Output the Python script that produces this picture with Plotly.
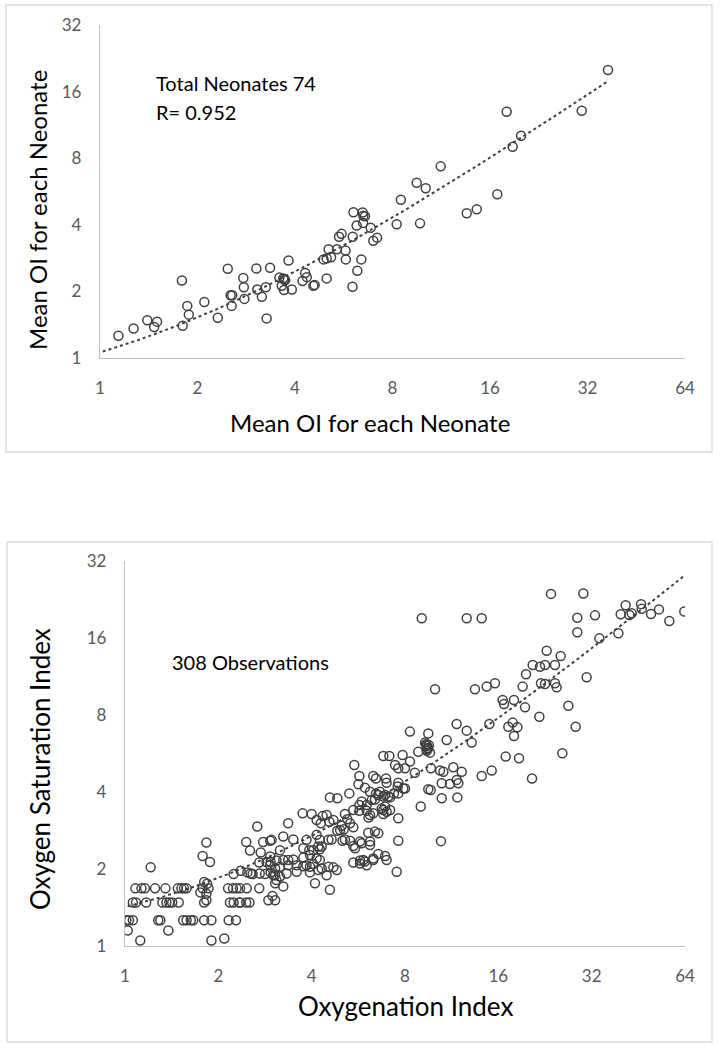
import numpy as np
import plotly.graph_objects as go

W, H = 720, 1050

# ---------------- Top panel data: mean OI per neonate ----------------
neonate_x = [1.14, 1.27, 1.40, 1.50, 1.47, 1.80, 1.79, 1.86, 1.88, 2.10,
             2.31, 2.48, 2.53, 2.56, 2.55, 2.77, 2.78, 2.79, 3.04, 3.06,
             3.16, 3.25, 3.35, 3.27, 3.58, 3.68, 3.73, 3.64, 3.70, 3.91,
             3.82, 4.22, 4.30, 4.35, 4.56, 4.60, 5.01, 4.90, 5.01, 5.17,
             5.08, 5.39, 5.47, 5.57, 5.73, 5.74, 6.02, 6.03, 6.06, 6.20,
             6.23, 6.41, 6.47, 6.58, 6.49, 6.85, 6.98, 7.17, 8.24, 8.49,
             9.50, 10.13, 9.73, 11.27, 13.56, 14.56, 16.85, 18.01, 18.80, 19.95,
             30.71, 37.02, 3.70, 6.50]
neonate_y = [1.26, 1.36, 1.48, 1.46, 1.38, 1.40, 2.24, 1.72, 1.57, 1.79,
             1.52, 2.53, 1.92, 1.92, 1.72, 2.30, 2.09, 1.85, 2.54, 2.04,
             1.89, 2.09, 2.56, 1.51, 2.31, 2.29, 2.25, 2.12, 2.03, 2.04,
             2.76, 2.23, 2.42, 2.32, 2.12, 2.14, 2.29, 2.79, 2.82, 2.85,
             3.10, 3.10, 3.53, 3.64, 3.06, 2.79, 2.10, 3.53, 4.56, 3.97,
             2.48, 2.79, 4.55, 4.37, 4.08, 3.88, 3.39, 3.50, 4.02, 5.19,
             6.20, 5.85, 4.06, 7.35, 4.51, 4.70, 5.50, 12.98, 9.02, 10.11,
             13.12, 20.03, 2.26, 4.40]

# ---------------- Bottom panel data: (OI, OSI) observations ----------------
obs_low = [
    (1.01, 1.26), (1.03, 1.26), (1.06, 1.26), (1.28, 1.26), (1.30, 1.26), (1.54, 1.26),
    (1.58, 1.26), (1.63, 1.26), (1.66, 1.26), (1.80, 1.26), (1.90, 1.26), (2.16, 1.26),
    (2.28, 1.26), (1.02, 1.15), (1.38, 1.15), (1.12, 1.05), (1.90, 1.05), (2.09, 1.07),
    (1.06, 1.48), (1.085, 1.48), (1.17, 1.48), (1.32, 1.48), (1.36, 1.48), (1.39, 1.48),
    (1.42, 1.48), (1.49, 1.48), (1.80, 1.48), (2.18, 1.48), (2.24, 1.48), (2.34, 1.48),
    (2.35, 1.48), (2.46, 1.48), (2.52, 1.48), (2.90, 1.51), (2.99, 1.57), (3.05, 1.51),
    (1.08, 1.68), (1.13, 1.68), (1.16, 1.68), (1.25, 1.68), (1.35, 1.68), (1.48, 1.68),
    (1.52, 1.68), (1.55, 1.68), (1.58, 1.68), (1.78, 1.68), (1.86, 1.68), (2.15, 1.68),
    (2.23, 1.68), (2.29, 1.68), (2.35, 1.68), (2.47, 1.68), (2.71, 1.68),
    (1.21, 2.03), (1.83, 2.54), (1.78, 2.25), (1.88, 2.13), (1.75, 1.62), (1.83, 1.60),
    (1.84, 1.75), (1.80, 1.78), (1.83, 1.51), (2.46, 2.55), (2.53, 2.36), (2.67, 2.93),
    (2.79, 2.55), (2.94, 2.58), (2.74, 2.32), (2.71, 2.12), (2.86, 2.13), (2.95, 2.13),
    (2.36, 1.97), (2.48, 1.94), (2.54, 1.92), (2.58, 1.91), (2.24, 1.91), (2.72, 1.92),
    (2.83, 1.91), (2.95, 1.94), (3.05, 1.89), (3.08, 1.81),
]
obs_mid = [
    (6.81, 5.53), (7.12, 5.53), (7.86, 5.58), (8.83, 5.75), (9.40, 6.11), (5.49, 5.10),
    (7.43, 5.10), (7.61, 4.95), (8.00, 4.95), (8.30, 5.26), (8.61, 4.76), (5.70, 4.62),
    (6.32, 4.62), (6.45, 4.52), (6.95, 4.52), (6.98, 4.35), (7.61, 4.35), (7.58, 4.20),
    (8.00, 4.13), (5.66, 4.29), (5.94, 4.16), (6.17, 4.01), (6.45, 3.95), (6.64, 4.01),
    (6.90, 3.89), (7.16, 3.81), (7.37, 3.95), (5.29, 3.95), (4.58, 3.81), (4.84, 3.78),
    (5.80, 3.67), (5.70, 3.56), (6.02, 3.56), (6.25, 3.72), (6.40, 3.74), (6.73, 3.45),
    (6.90, 3.51), (7.16, 3.40), (6.98, 3.35), (7.61, 3.16), (8.99, 3.51), (3.74, 3.30),
    (4.00, 3.28), (4.34, 3.22), (4.47, 3.25), (5.12, 3.28), (5.45, 3.40), (5.70, 3.38),
    (6.02, 3.38), (6.17, 3.25), (6.10, 3.18), (4.15, 3.11), (4.28, 3.02), (4.56, 3.06),
    (4.70, 3.11), (5.00, 2.95), (5.21, 3.13), (5.32, 3.02), (5.45, 2.91), (5.08, 2.86),
    (4.84, 2.82), (4.94, 2.84), (3.36, 3.02), (3.24, 2.68), (2.97, 2.60), (3.49, 2.61),
    (3.85, 2.60), (4.15, 2.72), (4.25, 2.60), (4.53, 2.60), (4.64, 2.61), (5.03, 2.58),
    (5.12, 2.61), (5.32, 2.58), (5.73, 2.56), (6.17, 2.56), (6.09, 2.77), (6.40, 2.80),
    (6.56, 2.76), (7.61, 2.58), (3.16, 2.37), (3.76, 2.41), (3.93, 2.37), (4.05, 2.37),
    (4.20, 2.45), (4.25, 2.39), (4.31, 2.45), (2.94, 2.24), (3.08, 2.16), (3.24, 2.17),
    (3.36, 2.17), (3.49, 2.18), (3.76, 2.22), (3.95, 2.27), (4.15, 2.20), (4.05, 2.09),
    (4.25, 2.17), (3.85, 2.07), (5.45, 2.46), (5.52, 2.41), (5.80, 2.52), (5.45, 2.12),
    (5.73, 2.16), (5.94, 2.14), (6.02, 2.07), (6.32, 2.17), (6.56, 2.29), (6.90, 2.25),
    (6.98, 2.17), (2.94, 2.07), (3.05, 2.01), (3.16, 2.04), (3.36, 2.07), (3.58, 2.07),
    (3.76, 2.05), (3.95, 2.04), (4.31, 2.01), (4.53, 2.04), (4.70, 2.03), (3.01, 1.89),
    (3.16, 1.87), (3.32, 1.92), (3.58, 1.95), (3.95, 1.94), (4.20, 1.98), (4.47, 1.89),
    (4.82, 1.98), (7.52, 1.95), (3.05, 1.76), (3.24, 1.71), (4.10, 1.76), (4.58, 1.66),
    (6.32, 3.30), (6.81, 3.40), (6.81, 3.28), (6.56, 3.89), (6.81, 3.84), (7.07, 3.84),
    (7.61, 3.95), (6.17, 2.48), (5.87, 2.17), (6.32, 2.20), (5.73, 2.10), (7.90, 4.13),
    (9.28, 6.24), (9.40, 6.05), (9.51, 5.93), (9.40, 5.80), (9.63, 5.70), (9.35, 6.15),
    (9.45, 5.95), (9.55, 6.10), (9.40, 5.88), (9.51, 6.78), (8.30, 6.89),
]
obs_high = [
    (9.70, 4.95), (9.51, 4.10), (9.68, 4.07), (10.38, 4.85), (10.64, 4.80), (10.51, 4.33),
    (11.17, 4.30), (11.45, 5.00), (11.74, 4.46), (11.89, 4.33), (12.19, 4.80), (10.51, 3.78),
    (11.80, 3.81), (10.90, 6.39), (11.74, 7.38), (12.65, 6.95), (13.13, 6.24), (14.97, 7.38),
    (14.14, 4.62), (15.23, 4.85), (16.90, 5.50), (18.66, 5.42), (20.55, 4.52), (10.00, 10.08),
    (9.06, 19.1), (12.65, 19.1), (14.14, 19.1), (13.45, 10.08), (14.67, 10.33), (15.61, 10.64),
    (16.69, 8.83), (16.52, 9.16), (17.97, 9.16), (19.51, 8.57), (19.17, 10.33), (19.65, 11.54),
    (20.65, 12.55), (21.80, 12.36), (22.63, 12.55), (22.91, 14.27), (24.37, 12.55), (25.42, 13.61),
    (21.70, 7.88), (17.23, 7.20), (17.80, 7.47), (18.43, 7.16), (17.97, 6.62), (21.96, 10.64),
    (22.63, 10.58), (24.37, 10.64), (24.67, 10.26), (26.91, 8.70), (28.42, 7.20), (25.74, 5.67),
    (30.83, 11.23), (23.66, 23.8), (30.08, 23.9), (28.76, 19.2), (32.80, 19.62), (28.76, 16.84),
    (33.88, 15.95), (39.02, 16.69), (39.70, 19.8), (41.19, 21.5), (42.34, 19.68), (43.08, 19.98),
    (46.17, 21.7), (46.40, 20.8), (49.73, 19.86), (52.75, 20.7), (56.96, 18.65), (63.68, 20.3),
    (10.45, 2.57),
]

tick_vals_x = [1, 2, 4, 8, 16, 32, 64]
tick_vals_y = [1, 2, 4, 8, 16, 32]
TREND_START = 1.02

obs = obs_low + obs_mid + obs_high
oi = [p[0] for p in obs]
osi = [p[1] for p in obs]

FONT = "Lato"
MARK = "#404040"
AXC = "#bfbfbf"


def trend(xs, ys):
    a, b = np.polyfit(np.array(xs), np.array(ys), 1)
    gx = np.geomspace(TREND_START, max(xs), 200)
    return gx, a * gx + b


fig = go.Figure()

tx, ty = trend(neonate_x, neonate_y)
fig.add_trace(go.Scatter(x=tx, y=ty, mode="lines", xaxis="x", yaxis="y",
                         line=dict(color=MARK, width=2, dash="dot"), hoverinfo="skip"))
fig.add_trace(go.Scatter(x=neonate_x, y=neonate_y, mode="markers", xaxis="x", yaxis="y",
                         marker=dict(symbol="circle-open", size=9, color=MARK,
                                     line=dict(width=1.5, color=MARK))))

bx, by = trend(oi, osi)
fig.add_trace(go.Scatter(x=bx, y=by, mode="lines", xaxis="x2", yaxis="y2",
                         line=dict(color=MARK, width=2, dash="dot"), hoverinfo="skip"))
fig.add_trace(go.Scatter(x=oi, y=osi, mode="markers", xaxis="x2", yaxis="y2",
                         marker=dict(symbol="circle-open", size=9, color=MARK,
                                     line=dict(width=1.5, color=MARK))))


def xax(domain, anchor):
    return dict(type="log", range=[0, np.log10(64)], domain=domain, anchor=anchor,
                showline=True, linecolor=AXC, linewidth=1.3, showgrid=False, zeroline=False,
                tickvals=tick_vals_x, ticktext=[str(v) for v in tick_vals_x], ticks="",
                tickfont=dict(family=FONT, size=17, color="#595959"), ticklabelstandoff=14,
                automargin=False, fixedrange=True)


def yax(domain, anchor):
    return dict(type="log", range=[0, np.log10(32)], domain=domain, anchor=anchor,
                showline=True, linecolor=AXC, linewidth=1.3, showgrid=False, zeroline=False,
                tickvals=tick_vals_y, ticktext=[str(v) for v in tick_vals_y], ticks="",
                tickfont=dict(family=FONT, size=17, color="#595959"), ticklabelstandoff=14,
                automargin=False, fixedrange=True)


def px(v):
    return v / W


def py(v):
    return 1 - v / H


annotations = [
    dict(text="Total Neonates 74", x=px(154), y=py(83), xanchor="left", yanchor="middle",
         font=dict(family=FONT, size=20, color="#000000")),
    dict(text="R= 0.952", x=px(154), y=py(112), xanchor="left", yanchor="middle",
         font=dict(family=FONT, size=20, color="#000000")),
    dict(text="308 Observations", x=px(170), y=py(662), xanchor="left", yanchor="middle",
         font=dict(family=FONT, size=20, color="#000000")),
    dict(text="Mean OI for each Neonate", x=px(370), y=py(422), xanchor="center", yanchor="middle",
         font=dict(family=FONT, size=24, color="#000000")),
    dict(text="Mean OI for each Neonate", x=px(38), y=py(210), xanchor="center", yanchor="middle",
         textangle=-90, font=dict(family=FONT, size=24, color="#000000")),
    dict(text="Oxygenation Index", x=px(405), y=py(1006), xanchor="center", yanchor="middle",
         font=dict(family=FONT, size=26, color="#000000")),
    dict(text="Oxygen Saturation Index", x=px(40), y=py(769), xanchor="center", yanchor="middle",
         textangle=-90, font=dict(family=FONT, size=26, color="#000000")),
]
for a in annotations:
    a.update(xref="paper", yref="paper", showarrow=False)

shapes = [
    dict(type="rect", xref="paper", yref="paper", x0=px(6), x1=px(712), y0=py(452), y1=py(5),
         line=dict(color="#d9d9d9", width=1.3), fillcolor="rgba(0,0,0,0)"),
    dict(type="rect", xref="paper", yref="paper", x0=px(7), x1=px(712), y0=py(1042), y1=py(542),
         line=dict(color="#d9d9d9", width=1.3), fillcolor="rgba(0,0,0,0)"),
]

fig.update_layout(
    width=W, height=H, margin=dict(l=0, r=0, t=0, b=0, autoexpand=False),
    paper_bgcolor="white", plot_bgcolor="white", showlegend=False,
    xaxis=xax([px(100), px(685)], "y"),
    yaxis=yax([py(358), py(25)], "x"),
    xaxis2=xax([px(125), px(685)], "y2"),
    yaxis2=yax([py(946), py(561)], "x2"),
    annotations=annotations, shapes=shapes,
)

fig.write_html(
    "out.html",
    config={"displayModeBar": False},
    post_script="document.body.style.margin='0px';document.body.style.overflow='hidden';",
)
